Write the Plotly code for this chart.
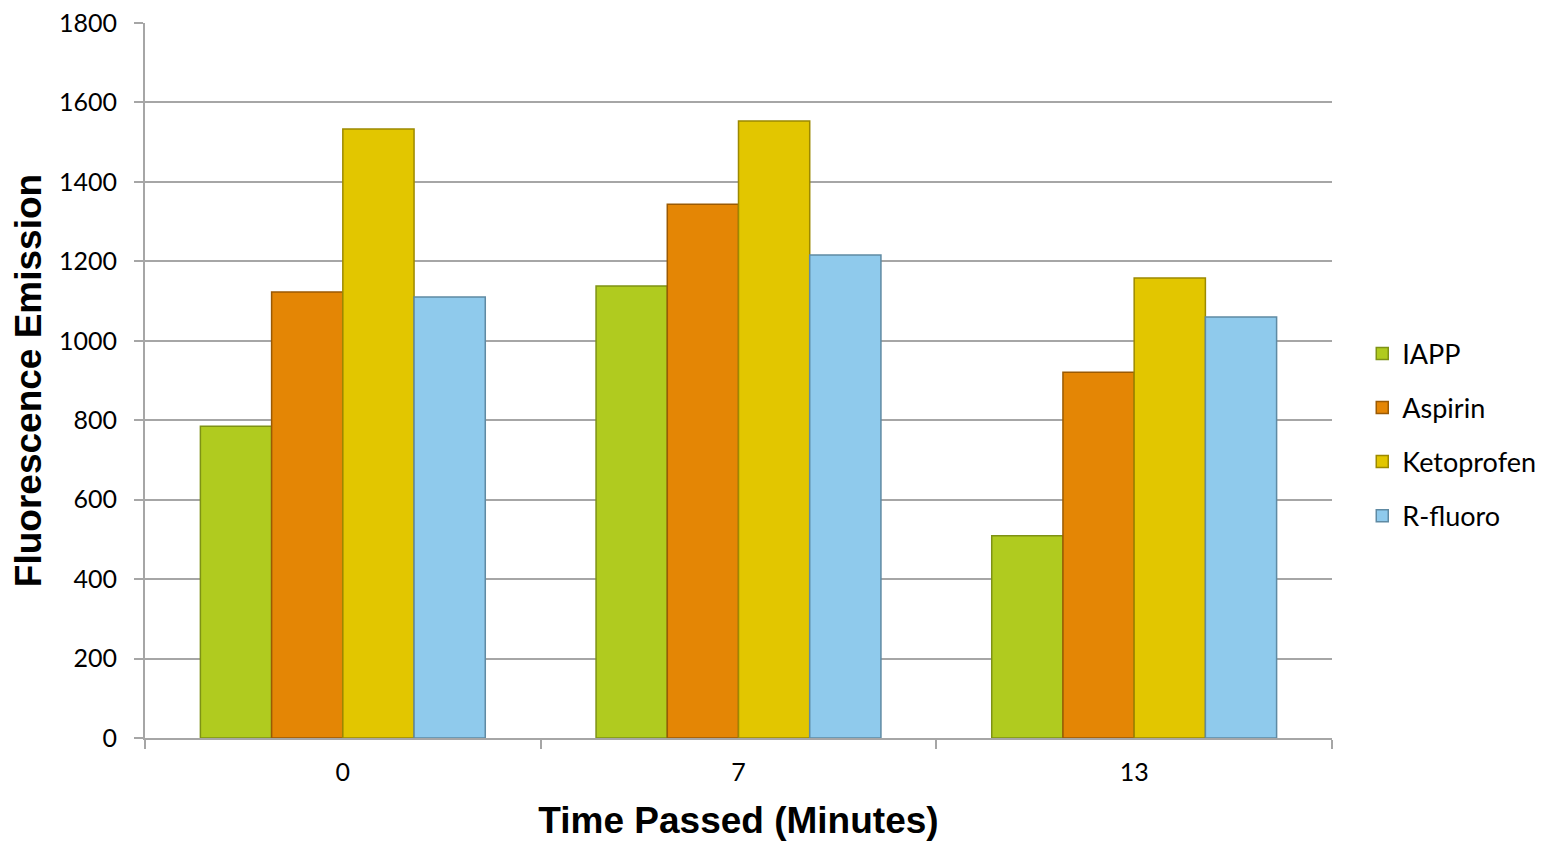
import plotly.graph_objects as go

categories = ["0", "7", "13"]
series_names = ["IAPP", "Aspirin", "Ketoprofen", "R-fluoro"]
iapp = [785, 1138, 509]
aspirin = [1123, 1344, 921]
ketoprofen = [1533, 1553, 1158]
r_fluoro = [1110, 1216, 1060]
y_ticks = [0, 200, 400, 600, 800, 1000, 1200, 1400, 1600, 1800]

colors = ["#B0CB1F", "#E48605", "#E2C600", "#8FCAEC"]
edges = ["#7E9215", "#9A5A04", "#9C8900", "#5F8AA3"]

fig = go.Figure()
for i, (name, vals) in enumerate(zip(series_names, [iapp, aspirin, ketoprofen, r_fluoro])):
    fig.add_trace(go.Bar(
        x=categories, y=vals, name=name, legendgroup=name,
        marker=dict(color=colors[i], line=dict(color=edges[i], width=1.5)),
    ))

font_family = "Lato, 'Liberation Sans', sans-serif"
title_family = "'Liberation Sans', Arial, sans-serif"
fig.update_layout(
    width=1544, height=833,
    margin=dict(l=137, r=220, t=15, b=103, autoexpand=False),
    paper_bgcolor="white", plot_bgcolor="white",
    barmode="group", bargap=0.28, bargroupgap=0,
    font=dict(family=font_family, size=25, color="#000000"),
    legend=dict(x=1.0255, y=0.424, xanchor="left", yanchor="middle",
                font=dict(size=27, family=font_family), tracegroupgap=16,
                itemwidth=30),
    xaxis=dict(
        type="category", showline=True, linecolor="#A6A6A6", linewidth=2,
        ticks="outside", tickson="boundaries", ticklen=9, tickcolor="#A6A6A6", tickwidth=2,
        tickfont=dict(size=25, family=font_family), ticklabelstandoff=11,
        title=dict(text="<b>Time Passed (Minutes)</b>",
                   font=dict(size=37, family=title_family), standoff=22),
    ),
    yaxis=dict(
        range=[0, 1800], tickvals=y_ticks, showline=True, linecolor="#A6A6A6", linewidth=2,
        showgrid=True, gridcolor="#A6A6A6", gridwidth=2, zeroline=False,
        ticks="outside", ticklen=9, tickcolor="#A6A6A6", tickwidth=2,
        tickfont=dict(size=25, family=font_family), ticklabelstandoff=12,
        ticklabeloverflow="allow",
        title=dict(text="<b>Fluorescence Emission</b>",
                   font=dict(size=37, family=title_family), standoff=14),
    ),
)

fig.write_html("out.html")
